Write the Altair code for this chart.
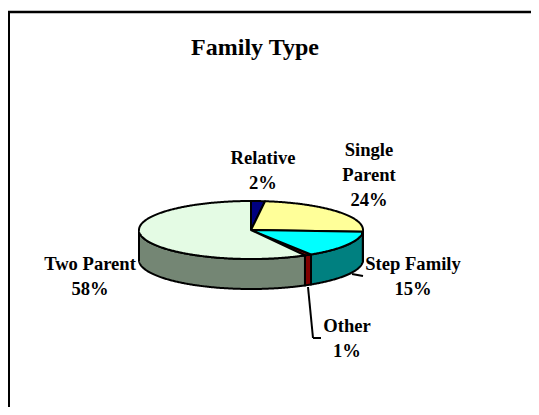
import math
import altair as alt
import pandas as pd

categories = ["Relative", "Single Parent", "Step Family", "Other", "Two Parent"]
shares = [2, 24, 15, 1, 58]
top_colors = ["#000080", "#FFFF99", "#00FFFF", "#800000", "#E4FBE4"]
side_colors = ["#000040", "#80804D", "#008080", "#800000", "#748674"]
label_lines = [["Relative", "2%"], ["Single", "Parent", "24%"], ["Step Family", "15%"], ["Other", "1%"], ["Two Parent", "58%"]]
title_text = "Family Type"

W, H = 523, 399
OX, OY = 8, 8
CX, CY, RX, RY, DEPTH = 251 - OX, 230 - OY, 112, 29, 30

def pt(a, dy=0):
    return [CX + RX * math.sin(a), CY + RY * math.cos(a) * -1 + dy]

def arc(a0, a1, dy=0):
    n = max(2, int(abs(a1 - a0) / 0.01))
    return [pt(a0 + (a1 - a0) * i / n, dy) for i in range(n + 1)]

start = 0.0
sides, tops = [], []
for name, share, tc, sc in zip(categories, shares, top_colors, side_colors):
    end = start + share / sum(shares) * 2 * math.pi
    tops.append({"type": "Feature", "properties": {"key": "t" + name, "col": tc},
                 "geometry": {"type": "Polygon", "coordinates": [[[CX, CY]] + arc(start, end) + [[CX, CY]]]}})
    a0, a1 = max(start, math.pi / 2), min(end, 3 * math.pi / 2)
    if a1 > a0:
        ring = arc(a0, a1) + arc(a1, a0, DEPTH)
        sides.append({"type": "Feature", "properties": {"key": "s" + name, "col": sc},
                      "geometry": {"type": "Polygon", "coordinates": [ring + [ring[0]]]}})
    start = end

all_features = sides + tops
proj = alt.Projection(type="identity", scale=1, translate=[0, 0])
pie = alt.Chart(alt.InlineData(values={"type": "FeatureCollection", "features": all_features},
                               format=alt.DataFormat(property="features", type="json"))).mark_geoshape(
    stroke="black", strokeWidth=2, strokeJoin="round"
).encode(
    fill=alt.Fill("properties.col:N", scale=None),
    order=alt.Order("properties.key:N"),
).project(**proj.to_dict())

frame_l = alt.Chart(pd.DataFrame({"a": [0]})).mark_rule(color="black", strokeWidth=2).encode(
    x=alt.value(1), y=alt.value(3), y2=alt.value(H))
frame_t = alt.Chart(pd.DataFrame({"a": [0]})).mark_rule(color="black", strokeWidth=2.5).encode(
    y=alt.value(4), x=alt.value(0), x2=alt.value(W))

def seg(x1, y1, x2, y2):
    return alt.Chart(pd.DataFrame({"a": [0]})).mark_rule(color="black", strokeWidth=2).encode(
        x=alt.value(x1 - OX), y=alt.value(y1 - OY), x2=alt.value(x2 - OX), y2=alt.value(y2 - OY))

lead = [seg(352, 274, 363, 276), seg(308, 287, 313, 338), seg(313, 338, 321, 338)]

def text(line, x, y, size=18.6):
    return alt.Chart(pd.DataFrame({"t": [line]})).mark_text(
        font="Liberation Serif", fontWeight="bold", fontSize=size, color="black",
        align="center", baseline="middle"
    ).encode(text="t:N", x=alt.value(x - OX), y=alt.value(y - OY))

pos = [(263, 170), (369, 175), (413, 276), (347, 338), (90, 276)]
labels = []
for lines, (x, y) in zip(label_lines, pos):
    n = len(lines)
    for i, l in enumerate(lines):
        labels.append(text(l, x, y + (i - (n - 1) / 2) * 25))

title = text(title_text, 255, 48, 24)

chart = alt.layer(pie, frame_l, frame_t, *lead, *labels, title).properties(
    width=W, height=H, padding=0, autosize=alt.AutoSizeParams(type="none")
).configure_view(stroke=None)
chart.save("out.html", embed_options={"renderer": "svg", "actions": False})
